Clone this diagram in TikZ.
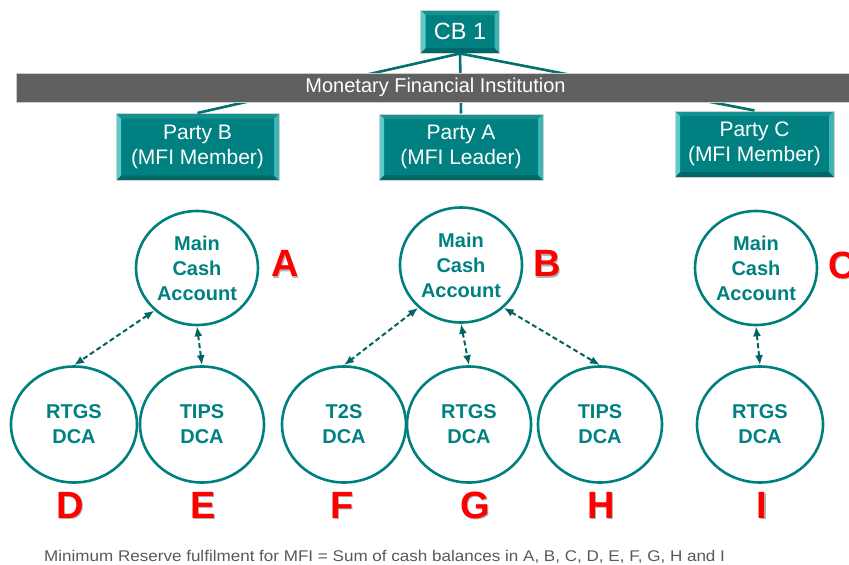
\documentclass[tikz,border=0pt]{standalone}
\usepackage{fontspec}
\setmainfont{Liberation Sans}
\usetikzlibrary{shapes.geometric,arrows.meta,calc}
\definecolor{tealbox}{RGB}{0,128,128}
\definecolor{bevleft}{RGB}{90,204,204}
\definecolor{bevright}{RGB}{64,180,180}
\definecolor{bevtop}{RGB}{20,145,145}
\definecolor{bevbot}{RGB}{0,104,104}
\definecolor{barfill}{RGB}{96,96,96}
\definecolor{ringteal}{RGB}{0,128,124}
\definecolor{linkteal}{RGB}{0,112,112}
\definecolor{arrowteal}{RGB}{0,100,96}
\definecolor{noteGray}{RGB}{89,89,89}
\newcommand{\shadowed}[1]{\rlap{\smash{\kern1.6pt\raisebox{-1.6pt}{\textcolor{black!30}{#1}}}}#1}
\begin{document}
\begin{tikzpicture}[x=1pt,y=-1pt,
  bevelbox/.style={rectangle, fill=tealbox, draw=black!18, line width=1pt,
    text=white, align=center, inner sep=0pt,
    path picture={
      \fill[bevtop] (path picture bounding box.north west) -- (path picture bounding box.north east)
        -- ($(path picture bounding box.north east)+(-5,5)$) -- ($(path picture bounding box.north west)+(5,5)$) -- cycle;
      \fill[bevbot] (path picture bounding box.south west) -- (path picture bounding box.south east)
        -- ($(path picture bounding box.south east)+(-5,-5)$) -- ($(path picture bounding box.south west)+(5,-5)$) -- cycle;
      \fill[bevleft] (path picture bounding box.north west) -- (path picture bounding box.south west)
        -- ($(path picture bounding box.south west)+(5,-5)$) -- ($(path picture bounding box.north west)+(5,5)$) -- cycle;
      \fill[bevright] (path picture bounding box.north east) -- (path picture bounding box.south east)
        -- ($(path picture bounding box.south east)+(-5,-5)$) -- ($(path picture bounding box.north east)+(-5,5)$) -- cycle;
    }},
  partybox/.style={bevelbox, font=\fontsize{21}{25}\selectfont},
  acct/.style={ellipse, draw=ringteal, line width=2.6pt, inner sep=0pt, align=center,
    text=tealbox, font=\fontsize{20}{25}\selectfont\bfseries},
  letter/.style={text=red, inner sep=0pt, font=\fontsize{38}{40}\selectfont\bfseries},
  link/.style={draw=linkteal, line width=2.6pt},
  dbl/.style={draw=arrowteal, line width=2pt, dash pattern=on 5pt off 3pt,
    {Latex[length=10pt,width=8pt]}-{Latex[length=10pt,width=8pt]}}
]
\useasboundingbox (0,0) rectangle (849,565);

% top boxes
\node[bevelbox, minimum width=79pt, minimum height=43pt, font=\fontsize{23.5}{25}\selectfont] (cb) at (460,31.5) {CB 1};
\node[partybox, minimum width=163pt, minimum height=67pt] (pB) at (197.5,147) {Party B\\(MFI Member)};
\node[partybox, minimum width=164pt, minimum height=66pt] (pA) at (461,147) {Party A\\(MFI Leader)};
\node[partybox, minimum width=159pt, minimum height=66pt] (pC) at (754.5,144) {Party C\\(MFI Member)};

\draw[link] (cb.south) -- (pB.north);
\draw[link] (cb.south) -- (pA.north);
\draw[link] (cb.south) -- (pC.north);

\node[rectangle, fill=barfill, draw=black!20, line width=1pt, minimum width=840pt, minimum height=29pt,
  inner sep=0pt, text=white, font=\fontsize{20}{22}\selectfont, anchor=west] (bar) at (16,87.5)
  {\hspace*{-2pt}\makebox[833pt]{Monetary Financial Institution}};

% main cash accounts
\node[acct, minimum width=122pt, minimum height=114pt] (mA) at (197,268) {Main\\Cash\\Account};
\node[acct, minimum width=122pt, minimum height=115pt] (mB) at (461,265) {Main\\Cash\\Account};
\node[acct, minimum width=122pt, minimum height=114pt] (mC) at (756,268) {Main\\Cash\\Account};

\node[letter] (lA) at (285,263.5) {\shadowed{A}};
\node[letter] (lB) at (547,263.5) {\shadowed{B}};
\node[letter] (lC) at (842,265) {\shadowed{C}};

% DCAs
\node[acct, minimum width=126pt, minimum height=116pt] (dD) at (74,424.5) {RTGS\\DCA};
\node[acct, minimum width=124pt, minimum height=116pt] (dE) at (202,424.5) {TIPS\\DCA};
\node[acct, minimum width=124pt, minimum height=116pt] (dF) at (344,424.5) {T2S\\DCA};
\node[acct, minimum width=124pt, minimum height=116pt] (dG) at (469,424.5) {RTGS\\DCA};
\node[acct, minimum width=124pt, minimum height=116pt] (dH) at (600,424.5) {TIPS\\DCA};
\node[acct, minimum width=126pt, minimum height=116pt] (dI) at (760,424.5) {RTGS\\DCA};

\node[letter] (lD) at (70,505) {\shadowed{D}};
\node[letter] (lE) at (203,505) {\shadowed{E}};
\node[letter] (lF) at (342,505) {\shadowed{F}};
\node[letter] (lG) at (475,505) {\shadowed{G}};
\node[letter] (lH) at (601,505) {\shadowed{H}};
\node[letter] (lI) at (762,505) {\shadowed{I}};

% arrows
\draw[dbl] (mA.225) -- (dD.north);
\draw[dbl] (mA.south) -- (dE.north);
\draw[dbl] (mB.225) -- (dF.north);
\draw[dbl] (mB.south) -- (dG.north);
\draw[dbl] (mB.-45) -- (dH.north);
\draw[dbl] (mC.south) -- (dI.north);

\node[anchor=base west, inner sep=0pt, text=noteGray, font=\fontsize{15.5}{18}\selectfont] (note) at (44,561)
  {\scalebox{1.1}[1]{Minimum Reserve fulfilment for MFI = Sum of cash balances in A, B, C, D, E, F, G, H and I}};
\end{tikzpicture}
\end{document}
